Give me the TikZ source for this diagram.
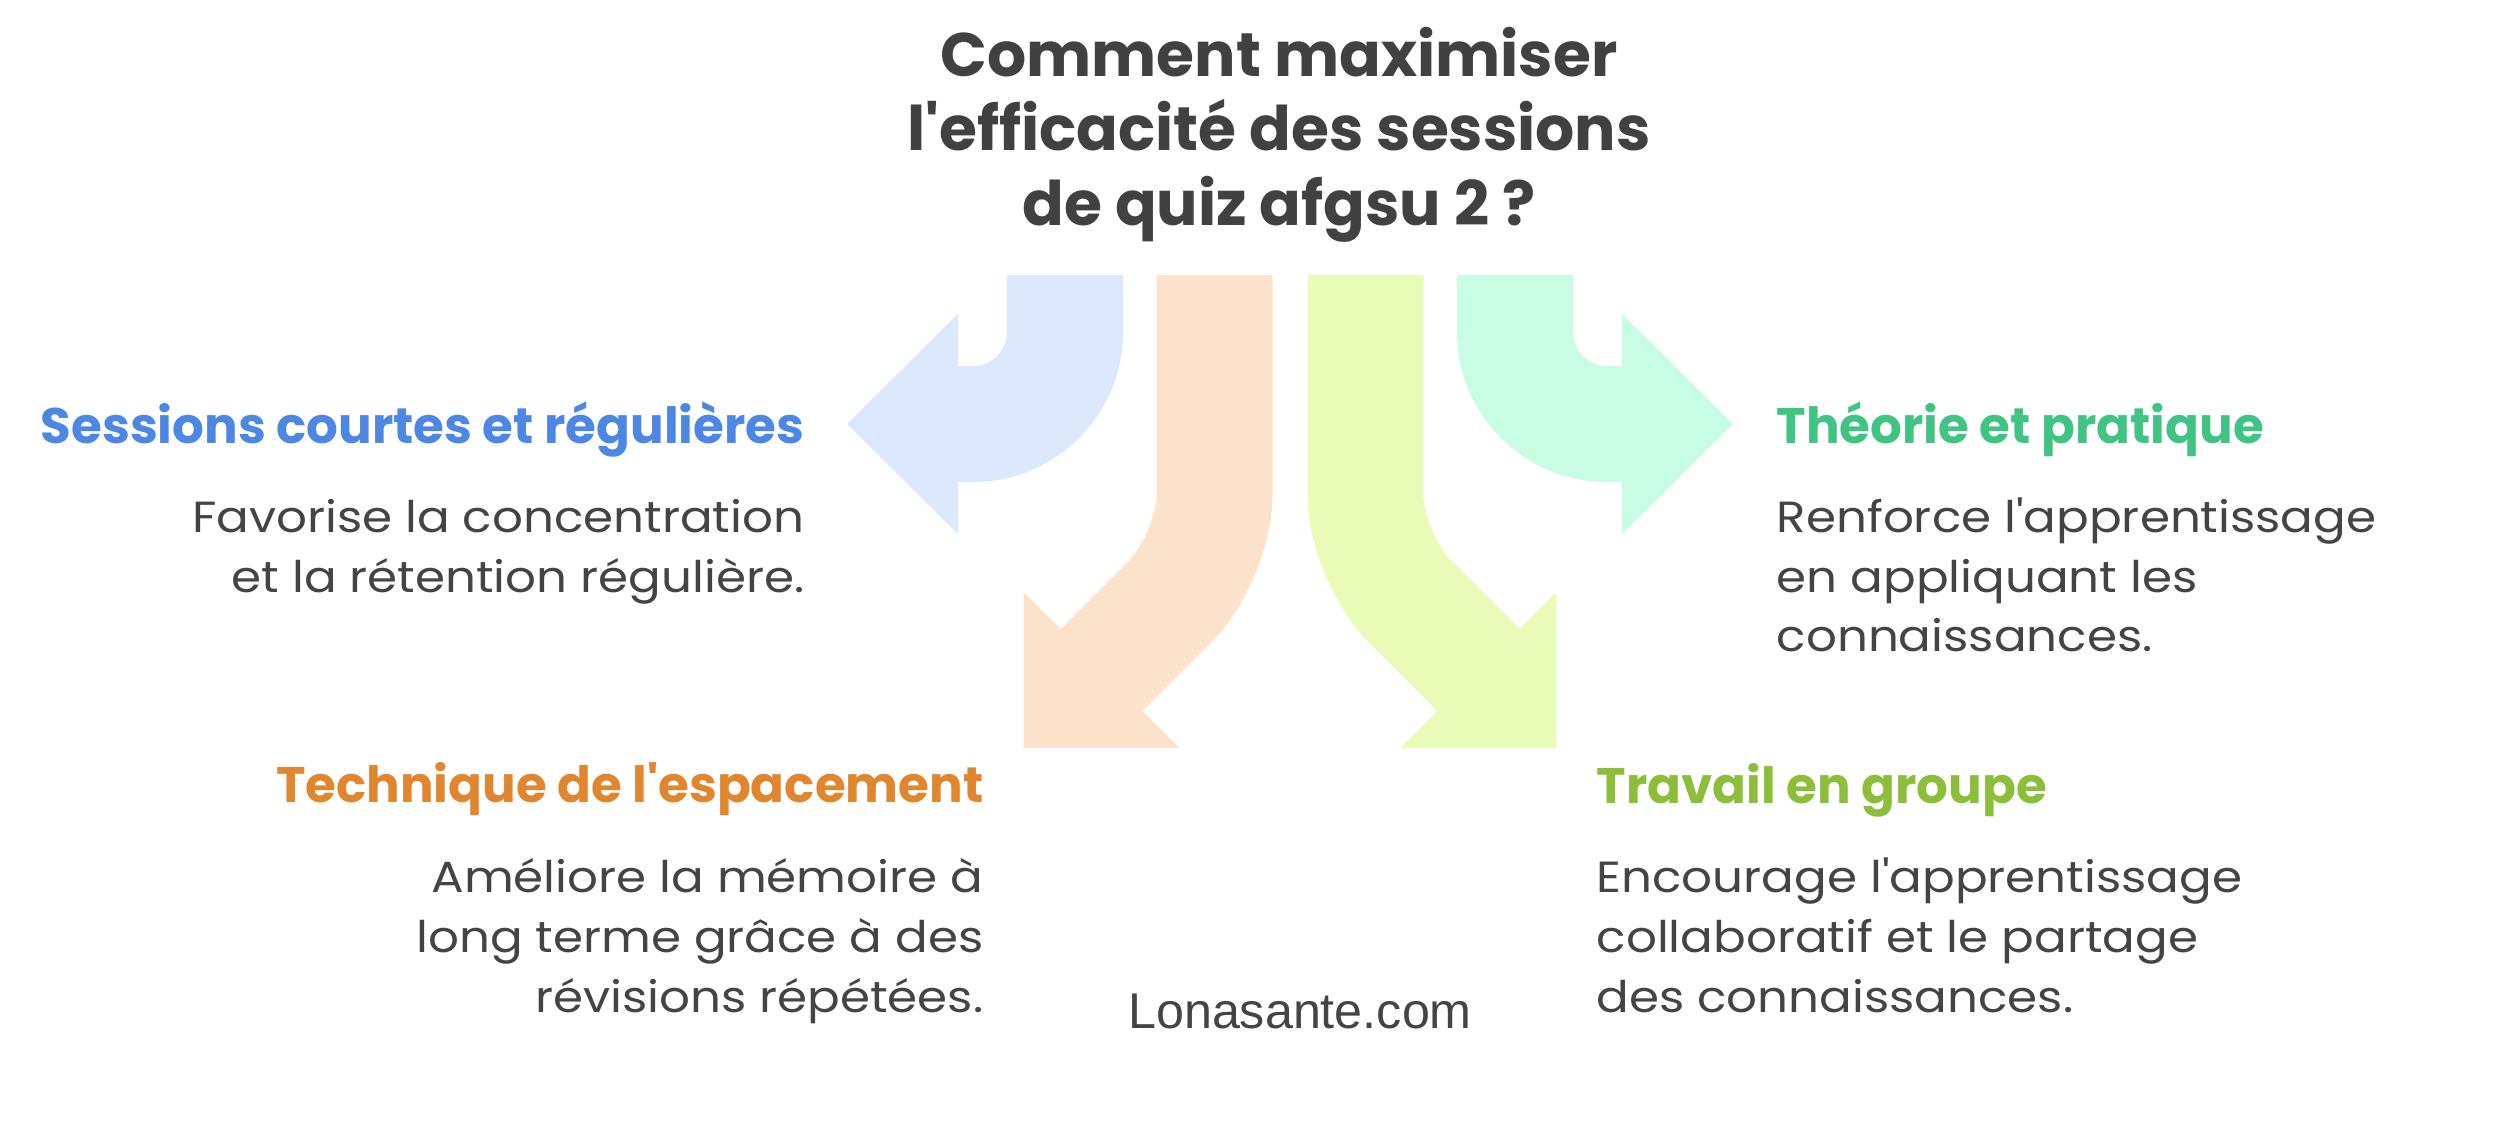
\documentclass[tikz,border=0pt]{standalone}
\usepackage{fontspec}
\setmainfont{Poppins}[Ligatures=TeXOff]
\newfontfamily\descfont{Poppins}[Ligatures=TeXOff, FakeStretch=1.11]
\newfontfamily\sitefont{Liberation Sans}
\usepackage{tikz}
\usetikzlibrary{positioning}

\definecolor{sessfill}{HTML}{DCE8FC}
\definecolor{sesstext}{HTML}{4C87E4}
\definecolor{techfill}{HTML}{FDE3CB}
\definecolor{techtext}{HTML}{E0862F}
\definecolor{travfill}{HTML}{E8FCB8}
\definecolor{travtext}{HTML}{8DBE3A}
\definecolor{theofill}{HTML}{C9FDE3}
\definecolor{theotext}{HTML}{3FC483}
\definecolor{bodygray}{HTML}{444444}

\tikzstyle{shaft} = [line width=11.6mm, line cap=butt]
\tikzstyle{heading} = [inner sep=0pt, font=\bfseries\fontsize{14.2}{17}\selectfont]
\tikzstyle{desc} = [inner sep=0pt, text=bodygray, font=\descfont\fontsize{12.4}{17.07}\selectfont]
\newcommand{\textlines}[2]{\begin{tabular}[t]{@{}#1@{}}#2\end{tabular}}

\begin{document}
\begin{tikzpicture}[x=0.1mm, y=-0.1mm]
  \useasboundingbox (0,0) rectangle (2493,1145);
  % Place arrow points
  \coordinate (sessStart) at (1065,275);
  \coordinate (sessBend) at (1065,424);
  \coordinate (sessEnd) at (945,424);
  \coordinate (techStart) at (1214.5,275);
  \coordinate (techBend) at (1214.5,557);
  \coordinate (techEnd) at (1092.3,679.2);
  \coordinate (travStart) at (1365.5,275);
  \coordinate (travBend) at (1365.5,557);
  \coordinate (travEnd) at (1487.7,679.2);
  \coordinate (theoStart) at (1515,275);
  \coordinate (theoBend) at (1515,424);
  \coordinate (theoEnd) at (1635,424);
  % Draw arrows
  \draw[shaft, sessfill, rounded corners=9.2mm] (sessStart) -- (sessBend) -- (sessEnd);
  \fill[sessfill] (958,314) -- (847,424) -- (958,534) -- cycle;
  \draw[shaft, techfill, rounded corners=6.2mm] (techStart) -- (techBend) -- (techEnd);
  \fill[techfill] (1023.7,592.2) -- (1023.7,747.8) -- (1179.3,747.8) -- cycle;
  \draw[shaft, travfill, rounded corners=6.2mm] (travStart) -- (travBend) -- (travEnd);
  \fill[travfill] (1556.3,592.2) -- (1556.3,747.8) -- (1400.7,747.8) -- cycle;
  \draw[shaft, theofill, rounded corners=9.2mm] (theoStart) -- (theoBend) -- (theoEnd);
  \fill[theofill] (1622,314) -- (1733,424) -- (1622,534) -- cycle;
  % Place texts
  \node[inner sep=0pt, text=bodygray!95!black, anchor=base,
    font=\bfseries\fontsize{17.5}{21.3}\selectfont] (question) at (1279,76)
    {\textlines{c}{Comment maximiser\\l'efficacité des sessions\\de quiz afgsu 2 ?}};
  \node[heading, text=sesstext, anchor=base east] (sessTitle) at (805,443) {Sessions courtes et régulières};
  \node[desc, anchor=base east] (sessDesc) at (805,532)
    {\textlines{r}{Favorise la concentration\\et la rétention régulière.}};
  \node[heading, text=theotext, anchor=base west] (theoTitle) at (1776,443) {Théorie et pratique};
  \node[desc, anchor=base west] (theoDesc) at (1776,532)
    {\textlines{l}{Renforce l'apprentissage\\en appliquant les\\connaissances.}};
  \node[heading, text=techtext, anchor=base east] (techTitle) at (984,802) {Technique de l'espacement};
  \node[desc, anchor=base east] (techDesc) at (984,892)
    {\textlines{r}{Améliore la mémoire à\\long terme grâce à des\\révisions répétées.}};
  \node[heading, text=travtext, anchor=base west] (travTitle) at (1596,803) {Travail en groupe};
  \node[desc, anchor=base west] (travDesc) at (1596,892)
    {\textlines{l}{Encourage l'apprentissage\\collaboratif et le partage\\des connaissances.}};
  \node[inner sep=0pt, text=bodygray, anchor=base, font=\sitefont\fontsize{14.3}{17}\selectfont]
    (site) at (1300,1028) {Lonasante.com};
\end{tikzpicture}
\end{document}
